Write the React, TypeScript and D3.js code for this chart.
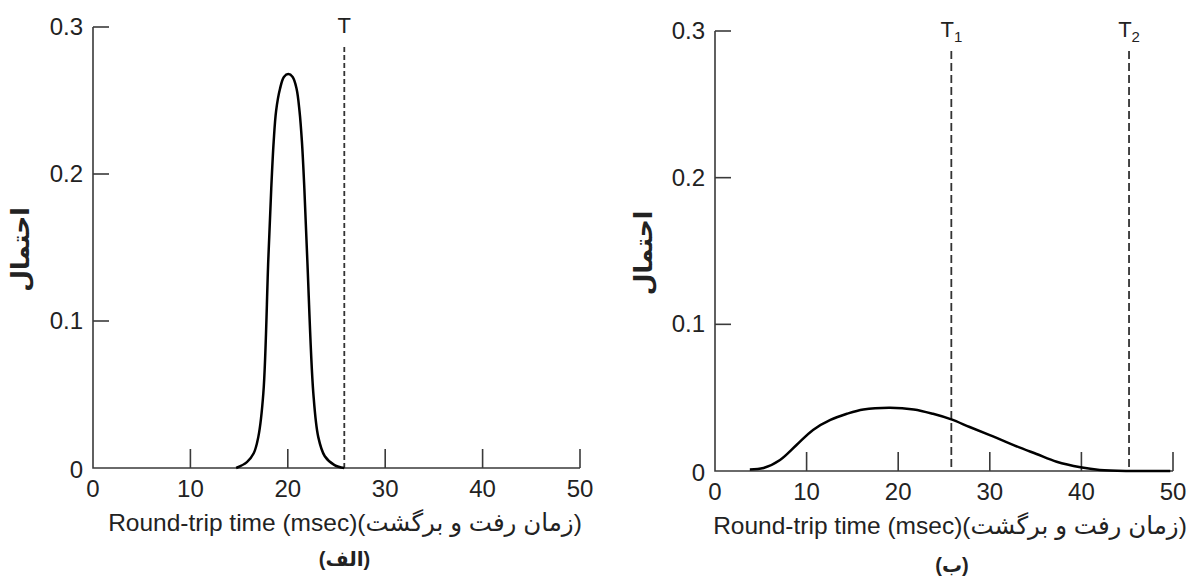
import React from 'react';
import * as d3 from 'd3';

// x ticks (msec) and y ticks (probability)
const xTicks = [0, 10, 20, 30, 40, 50];
const yTicks = [0, 0.1, 0.2, 0.3];
const yTickLabels = ['0', '0.1', '0.2', '0.3'];

// (a) narrow distribution
const leftTime = [14.7, 15.8, 16.5, 16.97, 17.49, 18.0, 18.3, 18.55, 18.8, 19.2, 19.6, 20.05, 20.5, 20.9, 21.2, 21.45, 21.7, 22.0, 22.62, 23.13, 23.8, 24.8, 25.8];
const leftProb = [0, 0.004, 0.01, 0.021, 0.051, 0.142, 0.19, 0.222, 0.243, 0.258, 0.266, 0.268, 0.266, 0.258, 0.243, 0.222, 0.19, 0.142, 0.051, 0.021, 0.008, 0.002, 0];

// (b) wide distribution
const rightTime = [3.8, 5.3, 7.1, 8.9, 10.7, 12.6, 14.4, 16.2, 19.1, 21.7, 23.8, 25.8, 27.8, 30.0, 32.6, 35.1, 37.3, 39.9, 42.0, 45.3, 49.7];
const rightProb = [0.001, 0.002, 0.0075, 0.0177, 0.028, 0.0348, 0.039, 0.042, 0.0432, 0.042, 0.039, 0.0352, 0.03, 0.0245, 0.0177, 0.0116, 0.0063, 0.0025, 0.0007, 0, 0];

const leftTimeouts = [{ name: 'T', sub: '', t: 25.8 }];
const rightTimeouts = [{ name: 'T', sub: '1', t: 25.8 }, { name: 'T', sub: '2', t: 45.2 }];

const xLabel = 'Round-trip time (msec)(زمان رفت و برگشت)';
const yLabel = 'احتمال';

const font = '"Liberation Sans", Arial, "DejaVu Sans", sans-serif';
const ink = '#222';

type PanelProps = {
  x0: number; x1: number; yTop: number; yBase: number;
  time: number[]; prob: number[];
  timeouts: { name: string; sub: string; t: number }[];
  dash: string; caption: string; captionY: number; labelX: number; labelCx: number;
};

const Panel = ({ x0, x1, yTop, yBase, time, prob, timeouts, dash, caption, captionY, labelX, labelCx }: PanelProps) => {
  const x = d3.scaleLinear().domain([0, 50]).range([x0, x1]);
  const y = d3.scaleLinear().domain([0, 0.3]).range([yBase, yTop]);
  const line = d3.line<number>()
    .x((_, i) => x(time[i]))
    .y(d => y(d))
    .curve(d3.curveCatmullRom.alpha(0.5));

  return (
    <g fontFamily={font} fill={ink}>
      {/* axes */}
      <path d={`M${x0},${yTop}V${yBase}H${x1}`} fill="none" stroke="#3a3a3a" strokeWidth={1.6} />
      {yTicks.map((v, i) => (
        <g key={'y' + i}>
          {v > 0 && <line x1={x0} x2={x0 + 16} y1={y(v)} y2={y(v)} stroke="#3a3a3a" strokeWidth={1.6} />}
          <text x={x0 - 10} y={y(v) + (v === 0 ? 10 : 8)} textAnchor="end" fontSize={24}>{yTickLabels[i]}</text>
        </g>
      ))}
      {xTicks.map(v => (
        <g key={'x' + v}>
          {v > 0 && <line x1={x(v)} x2={x(v)} y1={yBase} y2={yBase - 19} stroke="#3a3a3a" strokeWidth={1.6} />}
          <text x={x(v)} y={yBase + 29} textAnchor="middle" fontSize={24}>{v}</text>
        </g>
      ))}

      {/* timeout lines */}
      {timeouts.map(d => (
        <g key={d.name + d.sub}>
          <line x1={x(d.t)} x2={x(d.t)} y1={yTop + 20} y2={yBase} stroke="#333" strokeWidth={1.8} strokeDasharray={dash} />
          <text x={x(d.t)} y={yTop + 6} textAnchor="middle" fontSize={22}>
            {d.name}
            {d.sub && <tspan fontSize={15} dy={5}>{d.sub}</tspan>}
          </text>
        </g>
      ))}

      {/* distribution */}
      <path d={line(prob) ?? ''} fill="none" stroke="#000" strokeWidth={2.5} strokeLinejoin="round" />

      {/* labels */}
      <text x={labelCx} y={yBase + 63} textAnchor="middle" fontSize={24.5}>{xLabel}</text>
      <text x={(x0 + x1) / 2 + 8} y={captionY} textAnchor="middle" fontSize={20} fontWeight="bold">{caption}</text>
      <text transform={`translate(${labelX},${(yTop + yBase) / 2 + 2}) rotate(-90)`} textAnchor="middle"
        fontSize={25} fontWeight="bold">{yLabel}</text>
    </g>
  );
};

export default function App() {
  return (
    <svg width={1191} height={576} style={{ position: 'absolute', left: 0, top: 0, background: '#fff' }}>
      <rect width={1191} height={576} fill="#fff" />
      <Panel x0={93} x1={580} yTop={27} yBase={468} time={leftTime} prob={leftProb}
        timeouts={leftTimeouts} dash="5,3" caption="(الف)" captionY={566} labelX={29} labelCx={345} />
      <Panel x0={715} x1={1173} yTop={31} yBase={471} time={rightTime} prob={rightProb}
        timeouts={rightTimeouts} dash="8,4" caption="(ب)" captionY={572} labelX={652} labelCx={950} />
    </svg>
  );
}
